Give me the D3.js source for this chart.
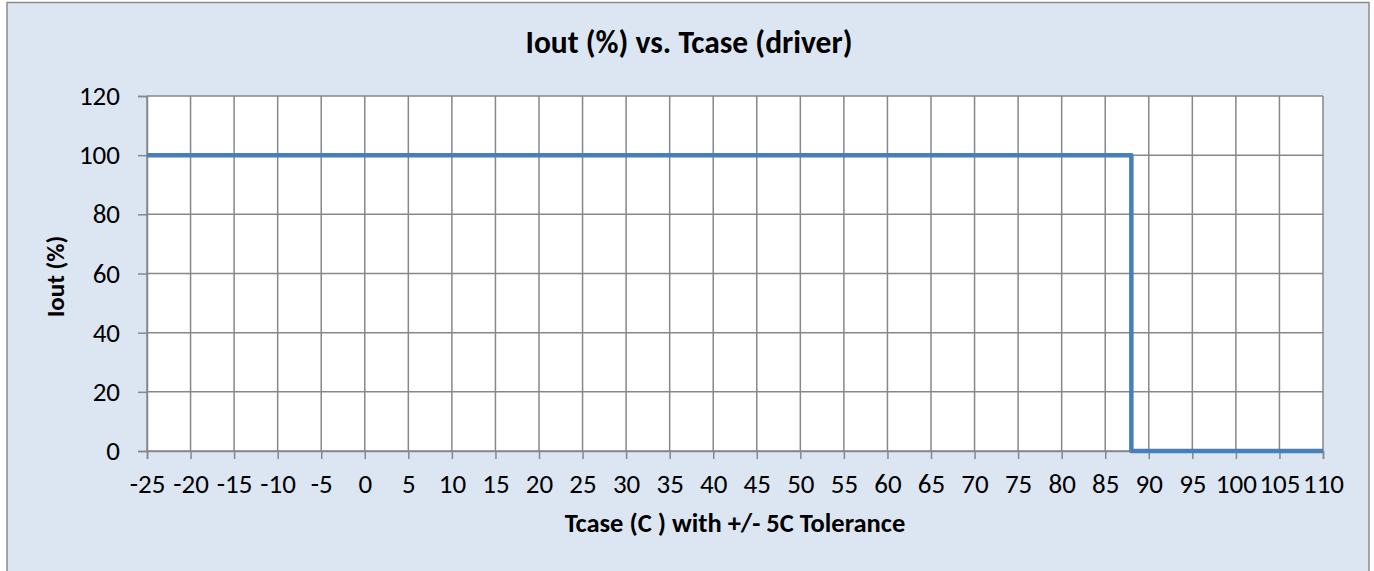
<!DOCTYPE html>
<html>
<head>
<meta charset="utf-8">
<script src="https://cdn.jsdelivr.net/npm/d3@7"></script>
<style>
  html, body { margin: 0; padding: 0; background: #ffffff; }
  svg { display: block; }
  text { font-family: Carlito, Calibri, Lato, "Open Sans", sans-serif; fill: #000; }
</style>
</head>
<body>
<svg id="chart" width="1374" height="571"></svg>
<script>
// ---- data ----
const tcase = [-25, 88, 88, 110];
const iout = [100, 100, 0, 0];
const xTicks = [-25,-20,-15,-10,-5,0,5,10,15,20,25,30,35,40,45,50,55,60,65,70,75,80,85,90,95,100,105,110];
const yTicks = [0, 20, 40, 60, 80, 100, 120];
const titleText = "Iout (%) vs. Tcase (driver)";
const xLabelText = "Tcase (C ) with +/- 5C Tolerance";
const yLabelText = "Iout (%)";

// ---- layout ----
const plot = { left: 147, right: 1323, top: 96, bottom: 451 };
const fontStack = "Carlito, Calibri, Lato, 'Open Sans', sans-serif";

const svg = d3.select("#chart");

// chart area background + border
svg.append("rect")
  .attr("x", 7).attr("y", 2.5)
  .attr("width", 1362).attr("height", 575)
  .attr("fill", "#DCE6F2")
  .attr("stroke", "#8C8C8C").attr("stroke-width", 1.5);

const x = d3.scaleLinear().domain([-25, 110]).range([plot.left, plot.right]);
const y = d3.scaleLinear().domain([0, 120]).range([plot.bottom, plot.top]);

// plot background
svg.append("rect")
  .attr("x", plot.left).attr("y", plot.top)
  .attr("width", plot.right - plot.left).attr("height", plot.bottom - plot.top)
  .attr("fill", "#ffffff");

const gridColor = "#878787";

// vertical gridlines
svg.append("g").selectAll("line").data(xTicks).join("line")
  .attr("x1", d => x(d)).attr("x2", d => x(d))
  .attr("y1", plot.top).attr("y2", plot.bottom)
  .attr("stroke", gridColor).attr("stroke-width", 1.5);

// horizontal gridlines
svg.append("g").selectAll("line").data(yTicks).join("line")
  .attr("x1", plot.left).attr("x2", plot.right)
  .attr("y1", d => y(d)).attr("y2", d => y(d))
  .attr("stroke", gridColor).attr("stroke-width", 1.5);

// axes
const xAxis = d3.axisBottom(x).tickValues(xTicks).tickSize(8).tickPadding(15).tickFormat(d => String(d));
const gx = svg.append("g").attr("transform", `translate(0,${plot.bottom})`).call(xAxis);
gx.select(".domain").attr("stroke", gridColor).attr("stroke-width", 1.5);
gx.selectAll(".tick line").attr("stroke", gridColor).attr("stroke-width", 1.5);
gx.selectAll(".tick text")
  .style("font-family", fontStack)
  .style("font-size", "27px").attr("fill", "#000");

const yAxis = d3.axisLeft(y).tickValues(yTicks).tickSize(9).tickPadding(18).tickFormat(d => String(d));
const gy = svg.append("g").attr("transform", `translate(${plot.left},0)`).call(yAxis);
gy.select(".domain").attr("stroke", gridColor).attr("stroke-width", 1.5);
gy.selectAll(".tick line").attr("stroke", gridColor).attr("stroke-width", 1.5);
gy.selectAll(".tick text")
  .style("font-family", fontStack)
  .style("font-size", "27px").attr("fill", "#000");

// series line
const pts = tcase.map((t, i) => [t, iout[i]]);
svg.append("path")
  .datum(pts)
  .attr("d", d3.line().x(d => x(d[0])).y(d => y(d[1])))
  .attr("fill", "none")
  .attr("stroke", "#4A7EBB")
  .attr("stroke-width", 4.5)
  .attr("stroke-linejoin", "round")
  .attr("stroke-linecap", "butt");

// title
svg.append("text")
  .attr("x", 689).attr("y", 53)
  .attr("text-anchor", "middle")
  .style("font-size", "31.5px").style("font-weight", "bold")
  .text(titleText);

// x-axis label
svg.append("text")
  .attr("x", (plot.left + plot.right) / 2).attr("y", 532)
  .attr("text-anchor", "middle")
  .style("font-size", "26.5px").style("font-weight", "bold")
  .text(xLabelText);

// y-axis label
svg.append("text")
  .attr("transform", `translate(64,${(plot.top + plot.bottom) / 2 + 3}) rotate(-90)`)
  .attr("text-anchor", "middle")
  .style("font-size", "25px").style("font-weight", "bold")
  .text(yLabelText);
</script>
</body>
</html>
